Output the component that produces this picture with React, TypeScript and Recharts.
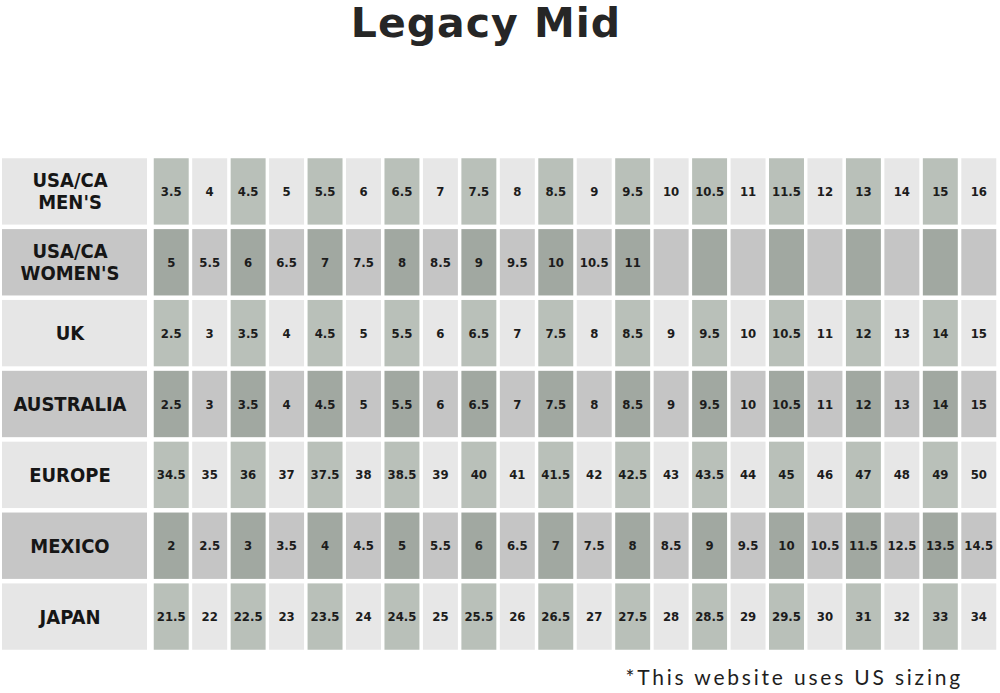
import { ScatterChart, Scatter, XAxis, YAxis } from 'recharts';

const ROW_LABELS = [
  ['USA/CA', "MEN'S"],
  ['USA/CA', "WOMEN'S"],
  ['UK'],
  ['AUSTRALIA'],
  ['EUROPE'],
  ['MEXICO'],
  ['JAPAN'],
];

const usMen = ['3.5', '4', '4.5', '5', '5.5', '6', '6.5', '7', '7.5', '8', '8.5', '9', '9.5', '10', '10.5', '11', '11.5', '12', '13', '14', '15', '16'];
const usWomen = ['5', '5.5', '6', '6.5', '7', '7.5', '8', '8.5', '9', '9.5', '10', '10.5', '11', '', '', '', '', '', '', '', '', ''];
const uk = ['2.5', '3', '3.5', '4', '4.5', '5', '5.5', '6', '6.5', '7', '7.5', '8', '8.5', '9', '9.5', '10', '10.5', '11', '12', '13', '14', '15'];
const australia = ['2.5', '3', '3.5', '4', '4.5', '5', '5.5', '6', '6.5', '7', '7.5', '8', '8.5', '9', '9.5', '10', '10.5', '11', '12', '13', '14', '15'];
const europe = ['34.5', '35', '36', '37', '37.5', '38', '38.5', '39', '40', '41', '41.5', '42', '42.5', '43', '43.5', '44', '45', '46', '47', '48', '49', '50'];
const mexico = ['2', '2.5', '3', '3.5', '4', '4.5', '5', '5.5', '6', '6.5', '7', '7.5', '8', '8.5', '9', '9.5', '10', '10.5', '11.5', '12.5', '13.5', '14.5'];
const japan = ['21.5', '22', '22.5', '23', '23.5', '24', '24.5', '25', '25.5', '26', '26.5', '27', '27.5', '28', '28.5', '29', '29.5', '30', '31', '32', '33', '34'];

const ROWS = [usMen, usWomen, uk, australia, europe, mexico, japan];
const NUM_COLS = 22;

// chart frame
const W = 1000;
const H = 693;
const MARGIN = { top: 156, right: 2, bottom: 41, left: 0 };
const LABEL_W = 152;
const COL_PITCH = (W - LABEL_W - MARGIN.right) / NUM_COLS;
const ROW_PITCH = (H - MARGIN.top - MARGIN.bottom) / ROWS.length;
const CELL_W = COL_PITCH - 3.5;
const CELL_H = ROW_PITCH - 4.5;

const cells = ROWS.flatMap((vals, r) =>
  vals.map((v, c) => ({ x: c + 0.5, y: r + 0.5, v, r, c }))
);

function cellFill(r: number, c: number) {
  const darkRow = r % 2 === 1;
  const green = c % 2 === 0;
  if (darkRow) return green ? '#a1a8a1' : '#c5c5c5';
  return green ? '#b9c0b9' : '#e7e7e7';
}

const CellShape = (props: any) => {
  const { cx, cy, payload } = props;
  if (cx == null || cy == null) return null;
  return (
    <g>
      <rect
        x={cx - CELL_W / 2}
        y={cy - CELL_H / 2}
        width={CELL_W}
        height={CELL_H}
        fill={cellFill(payload.r, payload.c)}
      />
      {payload.v ? (
        <text
          x={cx}
          y={cy}
          textAnchor="middle"
          dominantBaseline="central"
          fontFamily="'DejaVu Sans Condensed', 'DejaVu Sans', sans-serif"
          fontWeight="bold"
          fontSize={13}
          fill="#1c1c1c"
        >
          {payload.v}
        </text>
      ) : null}
    </g>
  );
};

const RowLabelTick = (props: any) => {
  const { y, payload } = props;
  const r = Math.floor(payload.value);
  const lines = ROW_LABELS[r] || [];
  const dark = r % 2 === 1;
  const lineH = 22;
  const startY = y - ((lines.length - 1) * lineH) / 2;
  return (
    <g>
      <rect x={2} y={y - CELL_H / 2} width={145} height={CELL_H} fill={dark ? '#c6c6c6' : '#e6e6e6'} />
      {lines.map((line, i) => (
        <text
          key={line + i}
          x={70}
          y={startY + i * lineH}
          textAnchor="middle"
          dominantBaseline="central"
          fontFamily="'DejaVu Sans Condensed', 'DejaVu Sans', sans-serif"
          fontWeight="bold"
          fontSize={20}
          fill="#161616"
        >
          {line}
        </text>
      ))}
    </g>
  );
};

export default function App() {
  const rowTicks = ROWS.map((_, r) => r + 0.5);
  return (
    <div style={{ position: 'absolute', left: 0, top: 0, width: W, height: H, background: '#ffffff' }}>
      <div
        style={{
          position: 'absolute',
          left: 0,
          top: 3,
          width: 972,
          textAlign: 'center',
          fontFamily: "'DejaVu Sans', sans-serif",
          fontWeight: 'bold',
          fontSize: 41,
          lineHeight: '41px',
          letterSpacing: 1,
          color: '#262626',
        }}
      >
        Legacy Mid
      </div>
      <ScatterChart width={W} height={H} margin={MARGIN}>
        <XAxis type="number" dataKey="x" domain={[0, NUM_COLS]} hide />
        <YAxis
          type="number"
          dataKey="y"
          domain={[0, ROWS.length]}
          reversed
          ticks={rowTicks}
          interval={0}
          width={LABEL_W}
          axisLine={false}
          tickLine={false}
          tick={<RowLabelTick />}
        />
        <Scatter data={cells} shape={<CellShape />} isAnimationActive={false} />
      </ScatterChart>
      <div
        style={{
          position: 'absolute',
          right: 37,
          top: 664,
          fontFamily: "Lato, 'Open Sans', sans-serif",
          fontSize: 21,
          letterSpacing: 2.8,
          color: '#1e1e1e',
          whiteSpace: 'nowrap',
        }}
      >
        *This website uses US sizing
      </div>
    </div>
  );
}
